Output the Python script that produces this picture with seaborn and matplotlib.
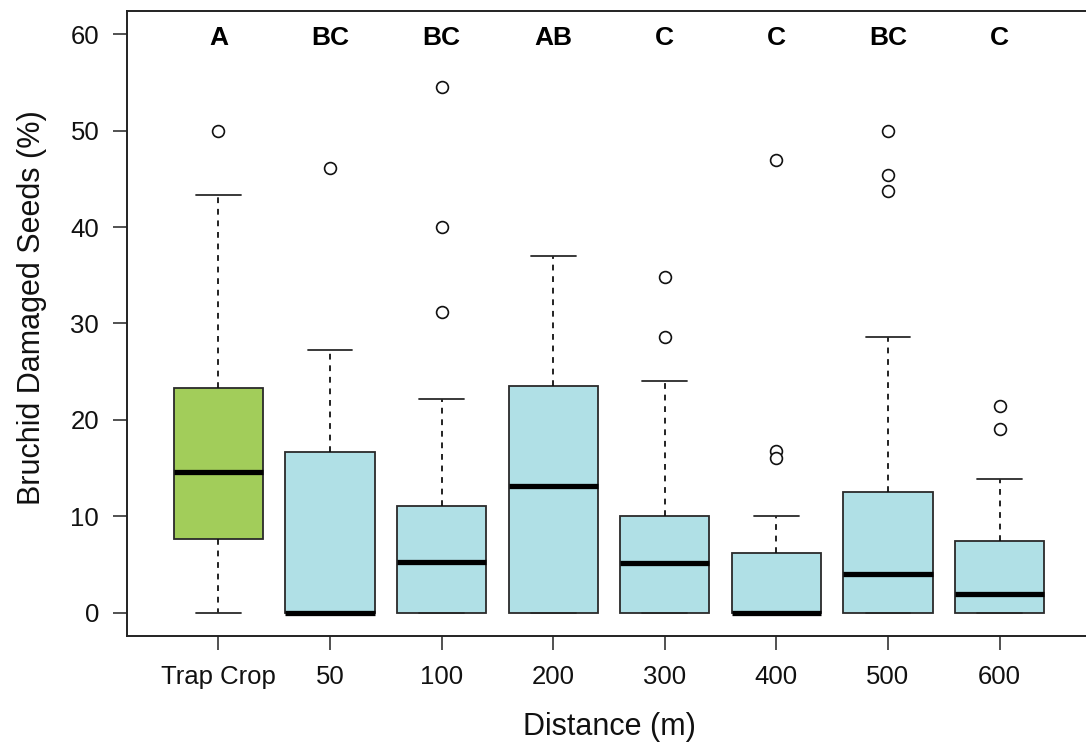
import numpy as np
import pandas as pd
import matplotlib
matplotlib.use("Agg")
import matplotlib.pyplot as plt
import seaborn as sns

# ---- data ----
categories = ["Trap Crop", "50", "100", "200", "300", "400", "500", "600"]
whisker_low = [0, 0, 0, 0, 0, 0, 0, 0]
q1 = [7.7, 0, 0, 0, 0, 0, 0, 0]
median = [14.65, 0, 5.3, 13.15, 5.2, 0, 4.0, 1.95]
q3 = [23.3, 16.65, 11.1, 23.5, 10.0, 6.25, 12.5, 7.5]
whisker_high = [43.3, 27.25, 22.2, 37.0, 24.0, 10.0, 28.6, 13.9]

outlier_group = ["Trap Crop", "50", "100", "100", "100", "300", "300",
                 "400", "400", "400", "500", "500", "500", "600", "600"]
outlier_value = [50.0, 46.1, 54.5, 40.0, 31.2, 34.8, 28.6,
                 47.0, 16.8, 16.1, 50.0, 45.4, 43.7, 21.4, 19.1]

letters = ["A", "BC", "BC", "AB", "C", "C", "BC", "C"]
fill_colors = ["#A2CD5A"] + ["#B0E0E6"] * 7

# long-form table: five summary points per group give exact quartiles
rows = []
for i, cat in enumerate(categories):
    for v in (whisker_low[i], q1[i], median[i], q3[i], whisker_high[i]):
        rows.append({"Distance": cat, "value": v})
box_df = pd.DataFrame(rows)
out_df = pd.DataFrame({"Distance": outlier_group, "value": outlier_value})

sns.set_style("ticks")
plt.rcParams["font.family"] = ["Liberation Sans", "DejaVu Sans"]

fig = plt.figure(figsize=(10.86, 7.51), dpi=100)
ax = fig.add_axes([127 / 1086, 115 / 751, 964 / 1086, 625 / 751])

edge = "#2a2a2a"
sns.boxplot(
    data=box_df, x="Distance", y="value", order=categories,
    hue="Distance", hue_order=categories, palette=fill_colors, legend=False,
    saturation=1, whis=(0, 100), width=0.8, linecolor=edge, linewidth=1.3,
    medianprops=dict(color="black", linewidth=3.8),
    whiskerprops=dict(linestyle=(0, (3.2, 3.2)), color="#111111", linewidth=1.3),
    capprops=dict(color=edge, linewidth=1.3),
    ax=ax,
)
sns.stripplot(
    data=out_df, x="Distance", y="value", order=categories, jitter=False,
    color="white", edgecolor="#111111", linewidth=1.2, size=8.5, ax=ax,
    zorder=5,
)

for i, lab in enumerate(letters):
    ax.text(i, 59.6, lab, ha="center", va="center", fontsize=19,
            fontweight="bold", color="black")

ax.set_xlim(-0.82, 7.82)
ax.set_ylim(-2.4, 62.4)
ax.set_yticks(range(0, 61, 10))
ax.set_xticks(range(len(categories)))
ax.set_xticklabels(categories)

for s in ax.spines.values():
    s.set_visible(True)
    s.set_color("#222222")
    s.set_linewidth(1.4)

ax.tick_params(axis="both", direction="out", length=10, width=1.1,
               color="#222222", labelsize=18.5, labelcolor="#111111")
ax.tick_params(axis="y", pad=10)
ax.tick_params(axis="x", pad=11)

ax.set_xlabel("Distance (m)", fontsize=22, color="#111111")
ax.set_ylabel("Bruchid Damaged Seeds (%)", fontsize=22, color="#111111")
ax.xaxis.set_label_coords(0.5, -0.122)
ax.yaxis.set_label_coords(-0.083, 0.525)
ax.grid(False)

fig.savefig("out.png", dpi=100)
